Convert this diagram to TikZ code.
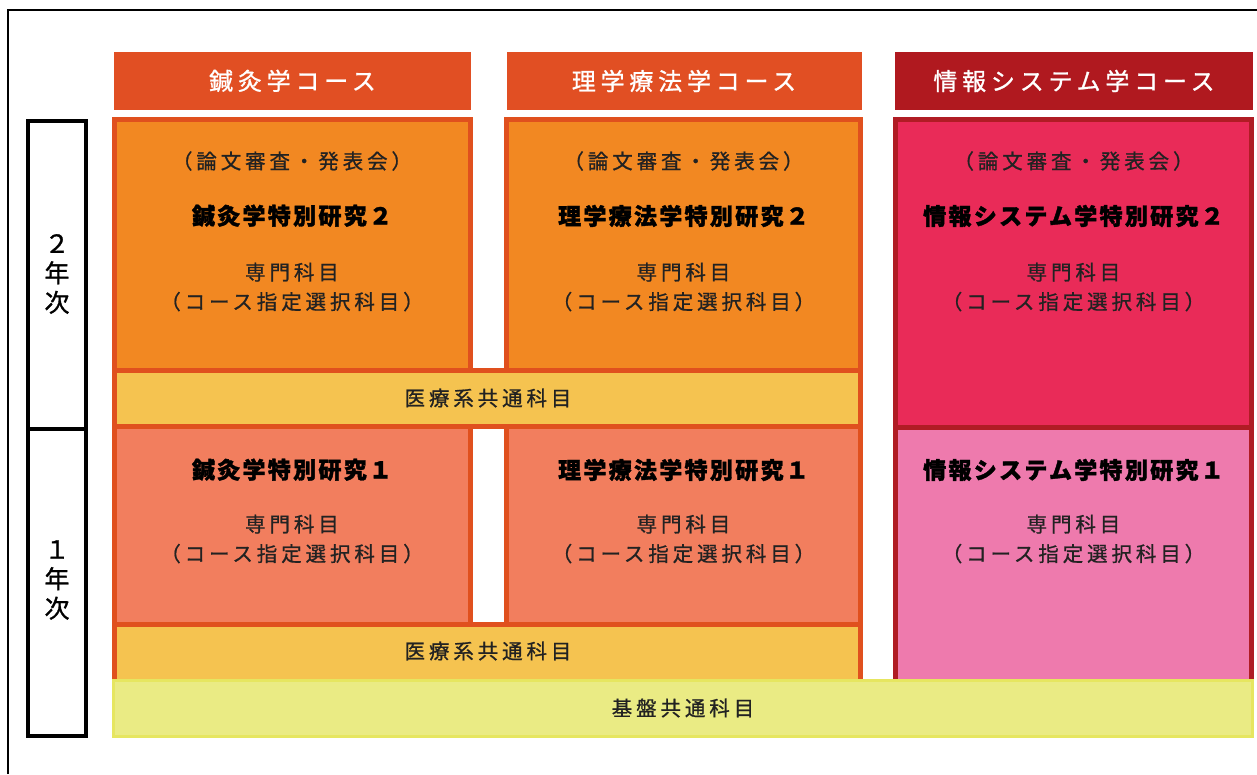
\documentclass[tikz,border=0pt]{standalone}
\usepackage{fontspec}
\newfontfamily\jhead[LetterSpace=20, FakeBold=1]{Noto Sans CJK JP}
\newfontfamily\jbody[LetterSpace=19, FakeBold=0.8]{Noto Sans CJK JP}
\newfontfamily\jbold[LetterSpace=10, BoldFeatures={FakeBold=1.6}]{Noto Sans CJK JP}
\newfontfamily\jyear[FakeBold=1.2]{Noto Sans CJK JP}
\definecolor{hdrO}{HTML}{E14F23}
\definecolor{brdO}{HTML}{E0501E}
\definecolor{fillO}{HTML}{F28822}
\definecolor{fillBand}{HTML}{F5C350}
\definecolor{fillSal}{HTML}{F27E5E}
\definecolor{hdrR}{HTML}{B0191F}
\definecolor{brdR}{HTML}{B01C24}
\definecolor{fillR}{HTML}{E92B58}
\definecolor{fillPk}{HTML}{EE7AAD}
\definecolor{fillY}{HTML}{EAEB84}
\definecolor{brdY}{HTML}{E6E660}
\definecolor{txt}{HTML}{222222}
\begin{document}
\begin{tikzpicture}[x=1pt,y=-1pt,
  hdr/.style={inner sep=0pt, minimum height=58pt, text=white,
    font=\jhead\fontsize{24}{28}\selectfont},
  blkO/.style={draw=brdO, line width=5pt},
  blkR/.style={draw=brdR, line width=5pt},
  body/.style={inner sep=0pt, align=center, text=txt,
    font=\jbody\fontsize{20.5}{29.5}\selectfont},
  bld/.style={inner sep=0pt, text=black,
    font=\jbold\bfseries\fontsize{23}{27}\selectfont},
  yr/.style={inner sep=0pt, align=center, text=black,
    font=\jyear\fontsize{25}{29.5}\selectfont}]
\useasboundingbox (0,0) rectangle (1257,774);
\fill[white] (0,0) rectangle (1257,774);
% outer frame (cropped)
\draw[line width=1.5pt] (8,774) -- (8,10) -- (1257,10);

% headers
\node[hdr, fill=hdrO, minimum width=357pt] (h1) at (292.5,81) {鍼灸学コース};
\node[hdr, fill=hdrO, minimum width=355pt] (h2) at (684,81) {理学療法学コース};
\node[hdr, fill=hdrR, minimum width=358pt] (h3) at (1074,81) {情報システム学コース};

% year box
\draw[line width=4pt] (27.5,120.5) rectangle (85.5,735.5);
\draw[line width=4pt] (27.5,428.5) -- (85.5,428.5);
\node[yr] (y2) at (57,274) {２\\年\\次};
\node[yr] (y1) at (57,580) {１\\年\\次};

% column 1 & 2 upper blocks
\filldraw[blkO, fill=fillO] (114.5,119.5) rectangle (470,370.5);
\filldraw[blkO, fill=fillO] (506,119.5) rectangle (860.5,370.5);
% band 1
\filldraw[blkO, fill=fillBand] (114.5,370.5) rectangle (860.5,426.5);
% lower blocks
\filldraw[blkO, fill=fillSal] (114.5,426.5) rectangle (470,624);
\filldraw[blkO, fill=fillSal] (506,426.5) rectangle (860.5,624);
% band 2
\filldraw[blkO, fill=fillBand] (114.5,624) rectangle (860.5,688);

% info column
\filldraw[blkR, fill=fillPk] (895.5,119.5) rectangle (1251.5,688);
\filldraw[blkR, fill=fillR] (895.5,119.5) rectangle (1251.5,427);

% base band
\filldraw[draw=brdY, fill=fillY, line width=3pt] (113.5,680.5) rectangle (1252.5,736);

% texts column 1
\node[body] (a2t) at (292,161) {（論文審査・発表会）};
\node[bld]  (a2)  at (292,216) {鍼灸学特別研究２};
\node[body] (a2s) at (292,287) {専門科目\\（コース指定選択科目）};
\node[bld]  (a1)  at (292,470) {鍼灸学特別研究１};
\node[body] (a1s) at (292,539) {専門科目\\（コース指定選択科目）};

% texts column 2
\node[body] (b2t) at (683.5,161) {（論文審査・発表会）};
\node[bld]  (b2)  at (683.5,216) {理学療法学特別研究２};
\node[body] (b2s) at (683.5,287) {専門科目\\（コース指定選択科目）};
\node[bld]  (b1)  at (683.5,470) {理学療法学特別研究１};
\node[body] (b1s) at (683.5,539) {専門科目\\（コース指定選択科目）};

% texts column 3
\node[body] (c2t) at (1073.5,161) {（論文審査・発表会）};
\node[bld]  (c2)  at (1073.5,216) {情報システム学特別研究２};
\node[body] (c2s) at (1073.5,287) {専門科目\\（コース指定選択科目）};
\node[bld]  (c1)  at (1073.5,470) {情報システム学特別研究１};
\node[body] (c1s) at (1073.5,539) {専門科目\\（コース指定選択科目）};

% band texts
\node[body] (m2) at (488,398) {医療系共通科目};
\node[body] (m1) at (488,651) {医療系共通科目};
\node[body] (kb) at (683,708) {基盤共通科目};
\end{tikzpicture}
\end{document}
